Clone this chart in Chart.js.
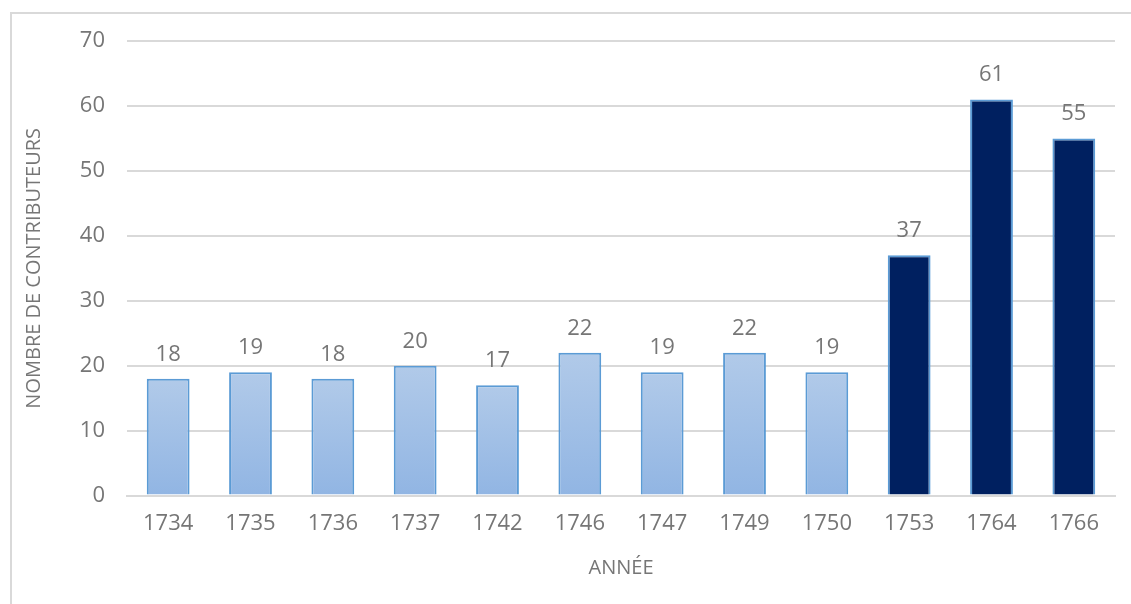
<!DOCTYPE html>
<html lang="fr">
<head>
<meta charset="utf-8">
<title>Contributeurs par année</title>
<script src="https://cdn.jsdelivr.net/npm/chart.js@4/dist/chart.umd.min.js"></script>
<style>
    html, body { margin: 0; padding: 0; background: #fff; }
    .cadre {
        position: absolute; left: 10px; top: 12px;
        width: 1160px; height: 640px;
        border: 2px solid #d9d9d9;
    }
    .zone { position: absolute; left: 0; top: 0; width: 1131px; height: 604px; }
</style>
</head>
<body>
<div class="cadre"></div>
<div class="zone"><canvas id="graficoBarres"></canvas></div>
<script>
// Nombre de contributeurs par année
const annees = ['1734', '1735', '1736', '1737', '1742', '1746', '1747', '1749', '1750', '1753', '1764', '1766'];
const contributeurs = [18, 19, 18, 20, 17, 22, 19, 22, 19, 37, 61, 55];
const graduationsY = [0, 10, 20, 30, 40, 50, 60, 70];

// à partir de cette année les barres passent en bleu foncé
const anneeCharniere = 1753;

const gris = '#767676';
const police = "'Open Sans', 'DejaVu Sans', sans-serif";

function couleurBarre(context) {
    const chart = context.chart;
    if (Number(annees[context.dataIndex]) >= anneeCharniere) {
        return '#002060';
    }
    if (!chart.chartArea || !chart.scales.y) {
        return '#a3c1e6';
    }
    const haut = chart.scales.y.getPixelForValue(contributeurs[context.dataIndex]);
    const bas = chart.scales.y.getPixelForValue(0);
    const degrade = chart.ctx.createLinearGradient(0, haut, 0, bas);
    degrade.addColorStop(0, '#b1cae9');
    degrade.addColorStop(1, '#91b5e3');
    return degrade;
}

// affiche la valeur au-dessus de chaque barre
const etiquettesValeurs = {
    id: 'etiquettesValeurs',
    afterDatasetsDraw(chart) {
        const ctx = chart.ctx;
        const meta = chart.getDatasetMeta(0);
        ctx.save();
        ctx.font = '22px ' + police;
        ctx.fillStyle = gris;
        ctx.textAlign = 'center';
        ctx.textBaseline = 'alphabetic';
        meta.data.forEach((barre, i) => {
            ctx.fillText(String(contributeurs[i]), barre.x, barre.y - 18);
        });
        ctx.restore();
    }
};

const ctx = document.getElementById('graficoBarres').getContext('2d');
new Chart(ctx, {
    type: 'bar',
    data: {
        labels: annees,
        datasets: [{
            label: 'Contributeurs',
            data: contributeurs,
            backgroundColor: couleurBarre,
            borderColor: '#5b9bd5',
            borderWidth: 2,
            categoryPercentage: 1,
            barPercentage: 0.52
        }]
    },
    options: {
        responsive: true,
        maintainAspectRatio: false,
        animation: false,
        layout: {
            padding: { left: 10, right: 16, top: 41, bottom: 24 }
        },
        plugins: {
            legend: { display: false },
            tooltip: { enabled: false }
        },
        scales: {
            x: {
                grid: { display: false, drawTicks: false },
                border: { display: true, color: '#d9d9d9', width: 2 },
                ticks: {
                    color: gris,
                    font: { family: police, size: 22 },
                    padding: 15
                },
                title: {
                    display: true,
                    text: 'ANNÉE',
                    color: gris,
                    font: { family: police, size: 20 },
                    padding: { top: 4, bottom: 0 }
                }
            },
            y: {
                min: 0,
                max: 70,
                afterBuildTicks(scale) {
                    scale.ticks = graduationsY.map(v => ({ value: v }));
                },
                afterFit(scale) {
                    scale.width = 117;
                },
                grid: { color: '#d9d9d9', lineWidth: 2, drawTicks: false },
                border: { display: false },
                ticks: {
                    color: gris,
                    font: { family: police, size: 22 },
                    padding: 22
                },
                title: {
                    display: true,
                    text: 'NOMBRE DE CONTRIBUTEURS',
                    color: gris,
                    font: { family: police, size: 20 },
                    padding: { top: 12, bottom: 10 }
                }
            }
        }
    },
    plugins: [etiquettesValeurs]
});
</script>
</body>
</html>
